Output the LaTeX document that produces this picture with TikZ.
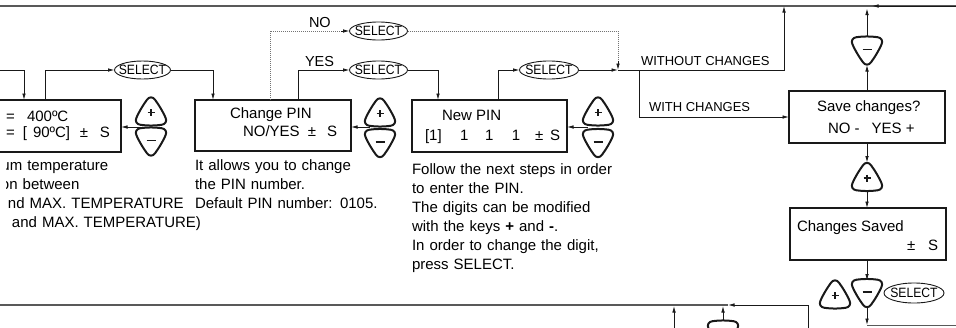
\documentclass[tikz,border=0pt]{standalone}
\usepackage{fontspec}
\setmainfont{Liberation Sans}
\usetikzlibrary{arrows.meta,shapes.geometric}
\tikzset{
  btnline/.style={line width=2pt, draw=black!90, fill=white, rounded corners=7pt},
  signline/.style={line width=1.7pt, draw=black!90},
  plusbtn/.pic={
    \draw[btnline] (0,-16.5) -- (-10.5,-1.5) -- (-17.5,13.5) -- (0,15.5) -- (17.5,13.5) -- (10.5,-1.5) -- cycle;
    \draw[signline] (-3.5,2) -- (3.5,2) (0,-1.5) -- (0,5.5);
  },
  minusbtn/.pic={
    \draw[btnline] (0,16.5) -- (-10.5,1.5) -- (-17.5,-13.5) -- (0,-15.5) -- (17.5,-13.5) -- (10.5,1.5) -- cycle;
    \draw[signline] (-4.5,-2) -- (4.5,-2);
  },
}
\begin{document}
\begin{tikzpicture}[x=1pt,y=-1pt,
  box/.style={draw=black!90, line width=1.6pt, inner sep=0, outer sep=0, anchor=north west},
  txt/.style={inner sep=0, outer sep=0, anchor=base west, font=\fontsize{15}{19}\selectfont},
  desc/.style={txt, text width=230pt, align=left},
  lbl/.style={inner sep=0, outer sep=0, anchor=base west, font=\fontsize{13}{15}\selectfont},
  yn/.style={inner sep=0, outer sep=0, anchor=base west, font=\fontsize{14.5}{16}\selectfont},
  selell/.style={ellipse, draw=black!90, line width=0.9pt, inner sep=0, outer sep=0, minimum width=#1, minimum height=18pt},
  seltxt/.style={inner sep=0, outer sep=0, font=\fontsize{13.5}{15}\selectfont},
  btn/.style={minimum width=31pt, minimum height=27pt, inner sep=0, outer sep=0},
  arr/.style={draw=black!90, line width=0.8pt, -{Latex[length=6.5pt,width=3.6pt]}},
  conn/.style={draw=black!90, line width=0.8pt},
  dots/.style={draw=black!55, line width=0.7pt, dash pattern=on 0.8pt off 1.2pt},
  gline/.style={draw=black!65, line width=1.4pt},
]
\useasboundingbox (0,0) rectangle (956,327);
\clip (0,0) rectangle (956,327);

% long lines
\coordinate (tl) at (0,6);
\coordinate (tr) at (956,6);
\coordinate (ta) at (872,6);
\draw[gline] (tl) -- (tr);
\draw[arr] (tr) -- (ta);

\coordinate (bl) at (0,305);
\coordinate (bc) at (808,305);
\coordinate (bd) at (808,330);
\coordinate (ba) at (728,305);
\draw[gline] (bl) -- (ba);
\draw[arr] (bd) -- (bc) -- (ba);

% boxes
\node[box, minimum width=141pt, minimum height=52pt] (lbox) at (-20,100) {};
\node[box, minimum width=156pt, minimum height=51pt] (cpin) at (195,100) {};
\node[box, minimum width=155pt, minimum height=52pt] (npin) at (412,100) {};
\node[box, minimum width=156pt, minimum height=52pt] (save) at (789,91) {};
\node[box, minimum width=156pt, minimum height=52pt] (saved) at (790,208) {};

% box texts
\node[txt] (lt1) at (6,121.5) {\makebox[21pt][l]{=}400ºC};
\node[txt] (lt2) at (6,137.5) {\makebox[17pt][l]{=}\makebox[10pt][l]{[}\makebox[47pt][l]{90ºC]}\makebox[20pt][l]{±}S};
\node[txt] (ct1) at (230,118.5) {Change PIN};
\node[txt] (ct2) at (243,136) {\makebox[65pt][l]{NO/YES}\makebox[19pt][l]{±}S};
\node[txt] (nt1) at (442,120.5) {New PIN};
\node[txt] (nt2) at (425,140.5) {\makebox[35pt][l]{[1]}\makebox[25pt][l]{1}\makebox[27pt][l]{1}\makebox[23pt][l]{1}\makebox[15pt][l]{±}S};
\node[txt] (st1) at (817,111.5) {Save changes?};
\node[txt] (st2) at (828,133.5) {NO -\hspace{12pt}YES +};
\node[txt] (dt1) at (797,231.5) {Changes Saved};
\node[txt, anchor=base east] (dt2) at (938,250) {\makebox[21pt][l]{±}S};

% select ellipses
\node[selell=56pt] (e1) at (142.5,70) {};
\node[selell=58pt] (e2) at (378.5,31) {};
\node[selell=58pt] (e3) at (378.5,70) {};
\node[selell=59pt] (e4) at (549,70) {};
\node[selell=60pt, minimum height=20pt] (e5) at (914,293) {};
\foreach \e in {e1,e2,e3,e4,e5} \node[seltxt] (t\e) at (\e) {\scalebox{0.9}[1]{SELECT}};

% buttons (placeholders)
\node[btn] (p1) at (151,110.5) {};
\node[btn] (m1) at (151,142.5) {};
\node[btn] (p2) at (380,111.5) {};
\node[btn] (m2) at (380,144) {};
\node[btn] (p3) at (598,110.5) {};
\node[btn] (m3) at (598,144) {};
\node[btn] (m4) at (867,51.5) {};
\node[btn] (p4) at (867,176) {};
\node[btn] (p5) at (835,293.5) {};
\node[btn] (m5) at (867,294) {};
\node[btn] (m6) at (723,335.5) {};

% connectors
\coordinate (in0) at (0,70.5);
\coordinate (j1) at (618,70);
\coordinate (tj) at (867,8.5);
\coordinate (br) at (867,325);
\draw[arr] (in0) -- (24,70.5) -- (24,0 |- lbox.north);
\draw[arr] (45,0 |- lbox.north) -- (45,70) -- (e1.west);
\draw[arr] (e1.east) -- (213,70) -- (213,0 |- cpin.north);
\draw[dots] (270,0 |- cpin.north) -- (270,31) -- (341,31);
\draw[arr] (341,31) -- (e2.west);
\draw[dots] (e2.east) -- (618,31) -- (618,61);
\draw[arr] (618,61) -- (j1);
\draw[arr] (298,0 |- cpin.north) -- (298,70) -- (e3.west);
\draw[arr] (e3.east) -- (438,70) -- (438,0 |- npin.north);
\draw[arr] (498,0 |- npin.north) -- (498,70) -- (e4.west);
\draw[arr] (e4.east) -- (j1);
\draw[arr] (j1) -- (784,70) -- (784,0 |- tl);
\draw[arr] (639,70) -- (639,0 |- save.west) -- (save.west);
\draw[arr] (m4.south |- save.north) -- (m4.south);
\draw[arr] (m4.north) -- (tj);
\draw[arr] (p4.north |- save.south) -- (p4.north);
\draw[arr] (p4.south) -- (p4.south |- saved.north);
\draw[arr] (m5.north |- saved.south) -- (m5.north);
\draw[arr] (m5.south) -- (br);
\draw[conn, draw=black!65] (br) -- (956,325);
\draw[arr] (674,330) -- (674,306);
\draw[arr] (m6.north) -- (723,306);
\draw[arr] (140,127) -- (lbox.east |- 0,127);
\draw[arr] (370,127) -- (cpin.east |- 0,127);
\draw[arr] (588,127) -- (npin.east |- 0,127);

% button drawings
\foreach \n in {p1,p2,p3,p4,p5} \pic at (\n) {plusbtn};
\foreach \n in {m1,m2,m3,m4,m5,m6} \pic at (\n) {minusbtn};

% labels
\node[yn] (lno) at (309,27) {NO};
\node[yn] (lyes) at (305,66) {YES};
\node[lbl] (lwo) at (641,65.5) {WITHOUT CHANGES};
\node[lbl] (lw) at (649,111) {WITH CHANGES};

% descriptions
\begin{scope}
  \clip (6,150) rectangle (205,240);
  \node[desc] (d1) at (1,170.5) {\hspace*{0.5pt}um temperature\\on between\\\hspace*{7pt}nd MAX. TEMPERATURE\\\hspace*{11pt}and MAX. TEMPERATURE)};
\end{scope}
\node[desc] (d2) at (195,170.5) {It allows you to change\\the PIN number.\\Default PIN number: 0105.};
\node[desc] (d3) at (412,174) {Follow the next steps in order\\to enter the PIN.\\The digits can be modified\\with the keys \textbf{+} and \textbf{-}.\\In order to change the digit,\\press SELECT.};
\end{tikzpicture}
\end{document}
